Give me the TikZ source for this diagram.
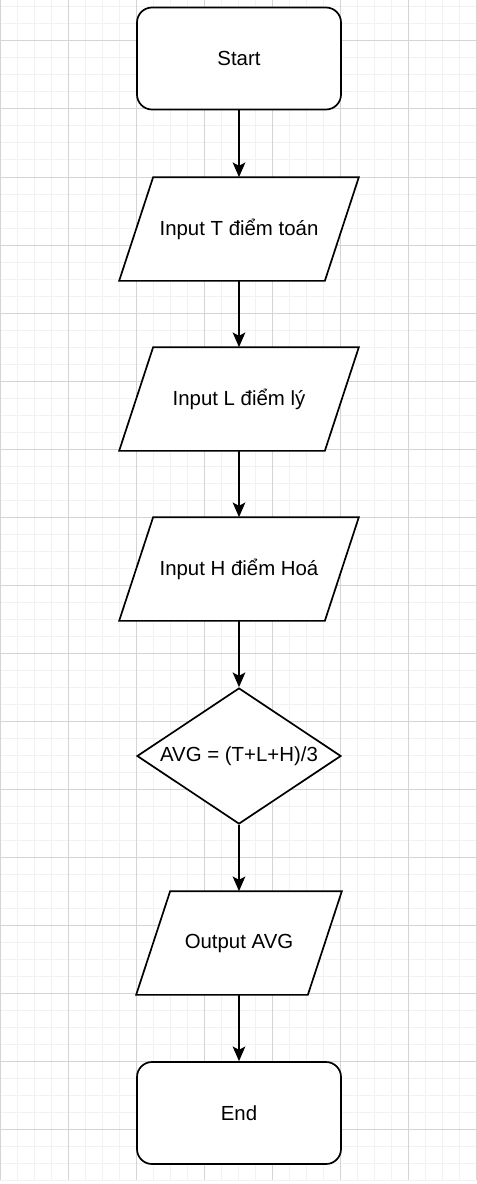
\documentclass[tikz,border=0pt]{standalone}
\usepackage{fontspec}
\setmainfont{Liberation Sans}
\usetikzlibrary{shapes.geometric,arrows.meta,backgrounds}
\definecolor{minorgrid}{HTML}{F2F2F2}
\definecolor{majorgrid}{HTML}{D4D4D4}
\tikzset{
  box/.style={line width=1.275pt,font=\fontsize{15.3pt}{18pt}\selectfont,
    inner sep=0pt,anchor=center},
  terminal/.style={box,draw,fill=white,rectangle,rounded corners=11.25pt,minimum width=153pt,minimum height=76.5pt},
  inout/.style={box,rectangle,minimum height=76.5pt},
  calc/.style={box,draw,fill=white,diamond,aspect=1.5,minimum width=153pt,minimum height=102pt},
  slanted/.style={draw,fill=white,line width=1.275pt,line join=miter},
  flow/.style={line width=1.275pt,-{Stealth[length=11pt,width=9.5pt,inset=2.5pt]}}
}
\begin{document}
\begin{tikzpicture}[x=0.75pt,y=-0.75pt]
        \useasboundingbox (0,0) rectangle (477,1184);
        %% Grid
        \begin{pgfonlayer}{background}
        \fill[white] (0,0) rectangle (477,1184);
        \foreach \i in {0,...,28}
            \draw[minorgrid,line width=0.75pt] (\i*17,0) -- (\i*17,1180);
        \foreach \j in {-2,...,67}
            \draw[minorgrid,line width=0.75pt] (0,41+\j*17) -- (477,41+\j*17);
        \foreach \i in {0,...,7}
            \draw[majorgrid,line width=0.75pt] (\i*68,0) -- (\i*68,1180);
        \foreach \j in {0,...,16}
            \draw[majorgrid,line width=0.75pt] (0,41+\j*68) -- (477,41+\j*68);
        \end{pgfonlayer}
        %% Steps
        \node[terminal] (start) at (239,58.5) {Start};
        \node[inout,minimum width=153pt] (inT) at (239,229) {Input T điểm toán};
        \node[inout,minimum width=153pt] (inL) at (239,399) {Input L điểm lý};
        \node[inout,minimum width=153pt] (inH) at (239,569) {Input H điểm Hoá};
        \node[calc] (avg) at (239,756) {AVG = (T+L+H)/3};
        \node[inout,minimum width=127.5pt] (out) at (239,943) {Output AVG};
        \node[terminal] (end) at (239,1113) {End};
        %% Parallelograms behind the texts
        \begin{pgfonlayer}{background}
        \foreach \n in {inT,inL,inH,out}
            \draw[slanted] ([xshift=-12.75pt]\n.south west) -- ([xshift=12.75pt]\n.north west)
                -- ([xshift=12.75pt]\n.north east) -- ([xshift=-12.75pt]\n.south east) -- cycle;
        \end{pgfonlayer}
        %% Flow
        \draw[flow] (start) -- (inT);
        \draw[flow] (inT) -- (inL);
        \draw[flow] (inL) -- (inH);
        \draw[flow] (inH) -- (avg);
        \draw[flow] (avg) -- (out);
        \draw[flow] (out) -- (end);
    \end{tikzpicture}
\end{document}
